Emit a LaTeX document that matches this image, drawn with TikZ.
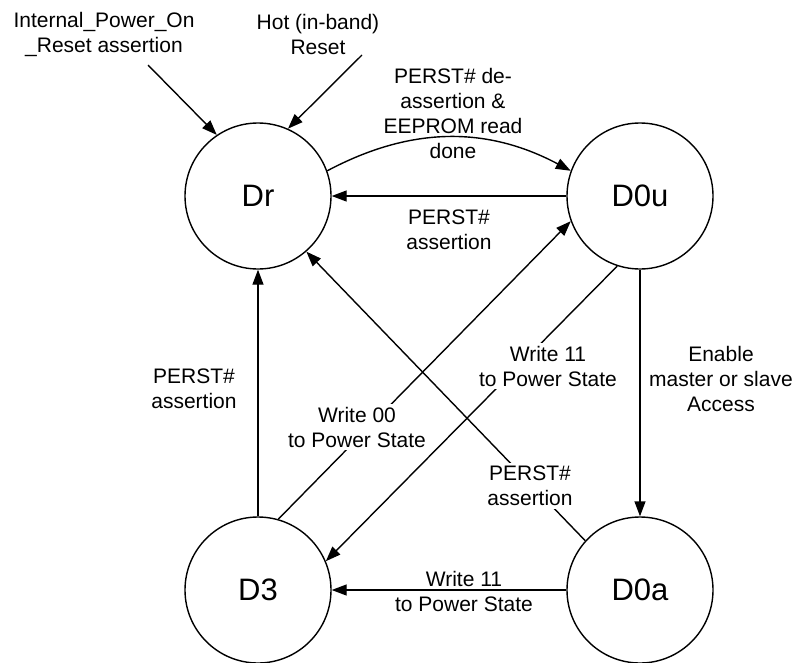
\documentclass[tikz,border=0pt]{standalone}
\usepackage{fontspec}
\setmainfont{Liberation Sans}
\usetikzlibrary{arrows.meta}

\begin{document}
\begin{tikzpicture}[x=1pt,y=-1pt,
            state/.style={draw,circle,minimum size=146pt,inner sep=0pt,line width=1.4pt,
                font=\fontsize{31}{36}\selectfont},
            lbl/.style={align=center,inner sep=3pt,font=\fontsize{21}{25}\selectfont},
            arr/.style={line width=1.4pt,-{Triangle[length=15pt,width=11pt]}}]
            \useasboundingbox (0,0) rectangle (798,662);
            \node[state] (Dr) at (258,196) {Dr};
            \node[state] (D0u) at (640,196) {D0u};
            \node[state] (D3) at (258,590) {D3};
            \node[state] (D0a) at (640,590) {D0a};
            % resets
            \node[lbl] (por) at (104,34) {Internal\_Power\_On\\\_Reset assertion};
            \node[lbl] (hot) at (318,34) {Hot (in-band)\\Reset};
            \coordinate (porend) at (148,65);
            \coordinate (hotend) at (362,55);
            \draw[arr] (porend) -- (Dr.124);
            \draw[arr] (hotend) -- (Dr.66);
            % transitions
            \draw[arr] (Dr.20) .. controls +(28:95pt) and +(152:95pt) .. (D0u.160);
            \node[lbl] (deassert) at (453,113) {PERST\# de-\\assertion \&\\EEPROM read\\done};
            \draw[arr] (D0u) -- (Dr) node[lbl,midway,below=10pt] (perstA) {PERST\#\\assertion};
            \draw[arr] (D3) -- (Dr);
            \node[lbl] (perstB) at (194,389) {PERST\#\\assertion};
            \draw[arr] (D3.74) -- (D0u.200);
            \draw[arr] (D0u.252) -- (D3.23);
            \draw[arr] (D0a.138) -- (Dr.311);
            \draw[arr] (D0u) -- (D0a);
            \draw[arr] (D0a) -- (D3);
            \node[lbl,fill=white] (wr00) at (357,427) {Write 00\\to Power State};
            \node[lbl,fill=white] (wr11a) at (548,366) {Write 11\\to Power State};
            \node[lbl,fill=white] (perstC) at (530,486) {PERST\#\\assertion};
            \node[lbl] (enable) at (721,379) {Enable\\master or slave\\Access};
            \node[lbl] (wr11b) at (464,591) {Write 11\\to Power State};
        \end{tikzpicture}
\end{document}
